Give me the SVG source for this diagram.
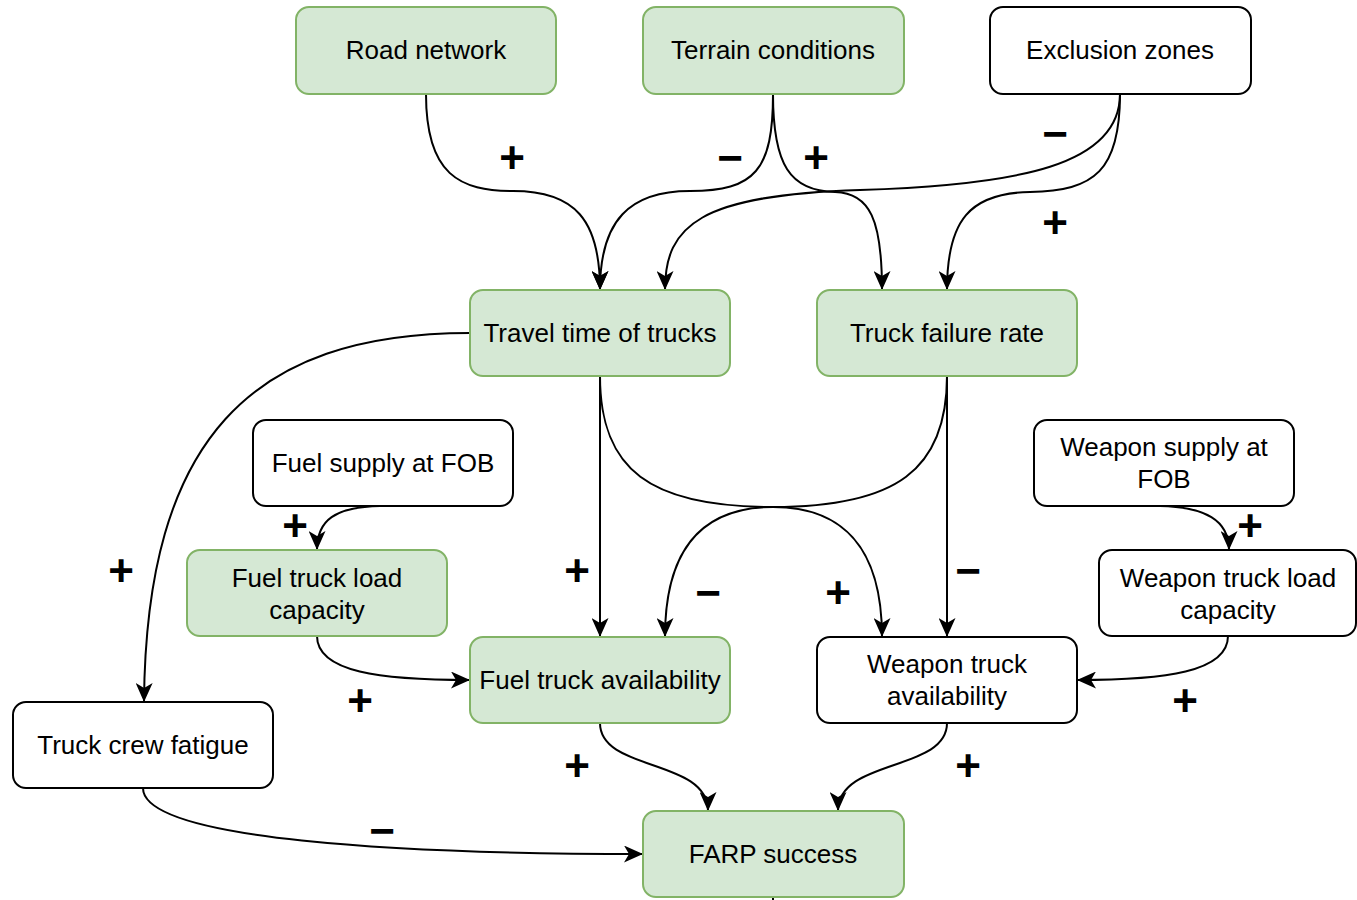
<svg xmlns="http://www.w3.org/2000/svg" width="1357" height="900" viewBox="0 0 1357 900">
<style>
.g rect{fill:#d5e8d4;stroke:#82b366;stroke-width:2}
.w rect{fill:#ffffff;stroke:#000000;stroke-width:2}
text.t{font-family:"Liberation Sans",Arial,sans-serif;font-size:26px;fill:#000;text-anchor:middle}
.e path{fill:none;stroke:#000;stroke-width:2}
.e path.a{marker-end:url(#arr)}
text.l{font-family:"Liberation Sans",Arial,sans-serif;font-size:44px;font-weight:bold;fill:#000;text-anchor:middle}
</style>
<defs>
<marker id="arr" markerUnits="userSpaceOnUse" viewBox="0 0 19 17" markerWidth="19" markerHeight="17" refX="19" refY="8.5" orient="auto">
<path d="M0,0 L19,8.5 L0,17 L5,8.5 Z" fill="#000"/>
</marker>
</defs>
<rect width="1357" height="900" fill="#ffffff"/>
<g id="connectors" class="e">
<path class="a" d="M426,94 C426,175 460,191 513,191 C575,191 600,220 600,290"/>
<path class="a" d="M773,94 C773,170 755,191 690,191 C630,191 600,220 600,290"/>
<path class="a" d="M773,94 C773,165 790,191 835,192 C870,193 882,220 882,290"/>
<path class="a" d="M1120,94 C1120,165 1020,185 860,190 C700,195 665,225 665,290"/>
<path class="a" d="M1120,94 C1120,170 1095,191 1030,192 C970,193 947,220 947,290"/>
<path class="a" d="M470,333 C250,333 146,440 144,702"/>
<path class="a" d="M600,376 L600,637"/>
<path class="a" d="M600,376 C600,470 650,507 773,507 C840,507 882,545 882,637"/>
<path class="a" d="M947,376 C947,470 896,507 773,507 C706,507 665,545 665,637"/>
<path class="a" d="M947,376 L947,637"/>
<path class="a" d="M380,506 C335,507 317,520 317,550"/>
<path class="a" d="M1160,506 C1205,507 1229,520 1229,550"/>
<path class="a" d="M317,636 C317,672 380,680 470,680"/>
<path class="a" d="M1228,636 C1228,672 1165,680 1077,680"/>
<path class="a" d="M600,723 C600,772 708,758 708,811"/>
<path class="a" d="M947,723 C947,772 838,758 838,811"/>
<path class="a" d="M143,788 C143,840 400,854 643,854"/>
<path d="M773,897 L773,900"/>
</g>
<g id="labels">
<text class="l" x="512" y="173">+</text>
<text class="l" x="730" y="173">−</text>
<text class="l" x="816" y="173">+</text>
<text class="l" x="1055" y="149">−</text>
<text class="l" x="1055" y="238">+</text>
<text class="l" x="121" y="586">+</text>
<text class="l" x="295" y="541">+</text>
<text class="l" x="577" y="586">+</text>
<text class="l" x="708" y="608">−</text>
<text class="l" x="838" y="608">+</text>
<text class="l" x="968" y="586">−</text>
<text class="l" x="1250" y="541">+</text>
<text class="l" x="360" y="716">+</text>
<text class="l" x="1185" y="716">+</text>
<text class="l" x="577" y="781">+</text>
<text class="l" x="968" y="781">+</text>
<text class="l" x="382" y="846">−</text>
</g>
<g id="road-network" class="g"><rect x="296" y="7" width="260" height="87" rx="13"/><text class="t" x="426" y="59">Road network</text></g>
<g id="terrain-conditions" class="g"><rect x="643" y="7" width="261" height="87" rx="13"/><text class="t" x="773" y="59">Terrain conditions</text></g>
<g id="exclusion-zones" class="w"><rect x="990" y="7" width="261" height="87" rx="13"/><text class="t" x="1120" y="59">Exclusion zones</text></g>
<g id="travel-time" class="g"><rect x="470" y="290" width="260" height="86" rx="13"/><text class="t" x="600" y="342">Travel time of trucks</text></g>
<g id="truck-failure-rate" class="g"><rect x="817" y="290" width="260" height="86" rx="13"/><text class="t" x="947" y="342">Truck failure rate</text></g>
<g id="fuel-supply" class="w"><rect x="253" y="420" width="260" height="86" rx="13"/><text class="t" x="383" y="472">Fuel supply at FOB</text></g>
<g id="weapon-supply" class="w"><rect x="1034" y="420" width="260" height="86" rx="13"/><text class="t" x="1164" y="456">Weapon supply at</text><text class="t" x="1164" y="488">FOB</text></g>
<g id="fuel-load" class="g"><rect x="187" y="550" width="260" height="86" rx="13"/><text class="t" x="317" y="587">Fuel truck load</text><text class="t" x="317" y="619">capacity</text></g>
<g id="weapon-load" class="w"><rect x="1099" y="550" width="257" height="86" rx="13"/><text class="t" x="1228" y="587">Weapon truck load</text><text class="t" x="1228" y="619">capacity</text></g>
<g id="fuel-availability" class="g"><rect x="470" y="637" width="260" height="86" rx="13"/><text class="t" x="600" y="689">Fuel truck availability</text></g>
<g id="weapon-availability" class="w"><rect x="817" y="637" width="260" height="86" rx="13"/><text class="t" x="947" y="673">Weapon truck</text><text class="t" x="947" y="705">availability</text></g>
<g id="crew-fatigue" class="w"><rect x="13" y="702" width="260" height="86" rx="13"/><text class="t" x="143" y="754">Truck crew fatigue</text></g>
<g id="farp-success" class="g"><rect x="643" y="811" width="261" height="86" rx="13"/><text class="t" x="773" y="863">FARP success</text></g>
</svg>
